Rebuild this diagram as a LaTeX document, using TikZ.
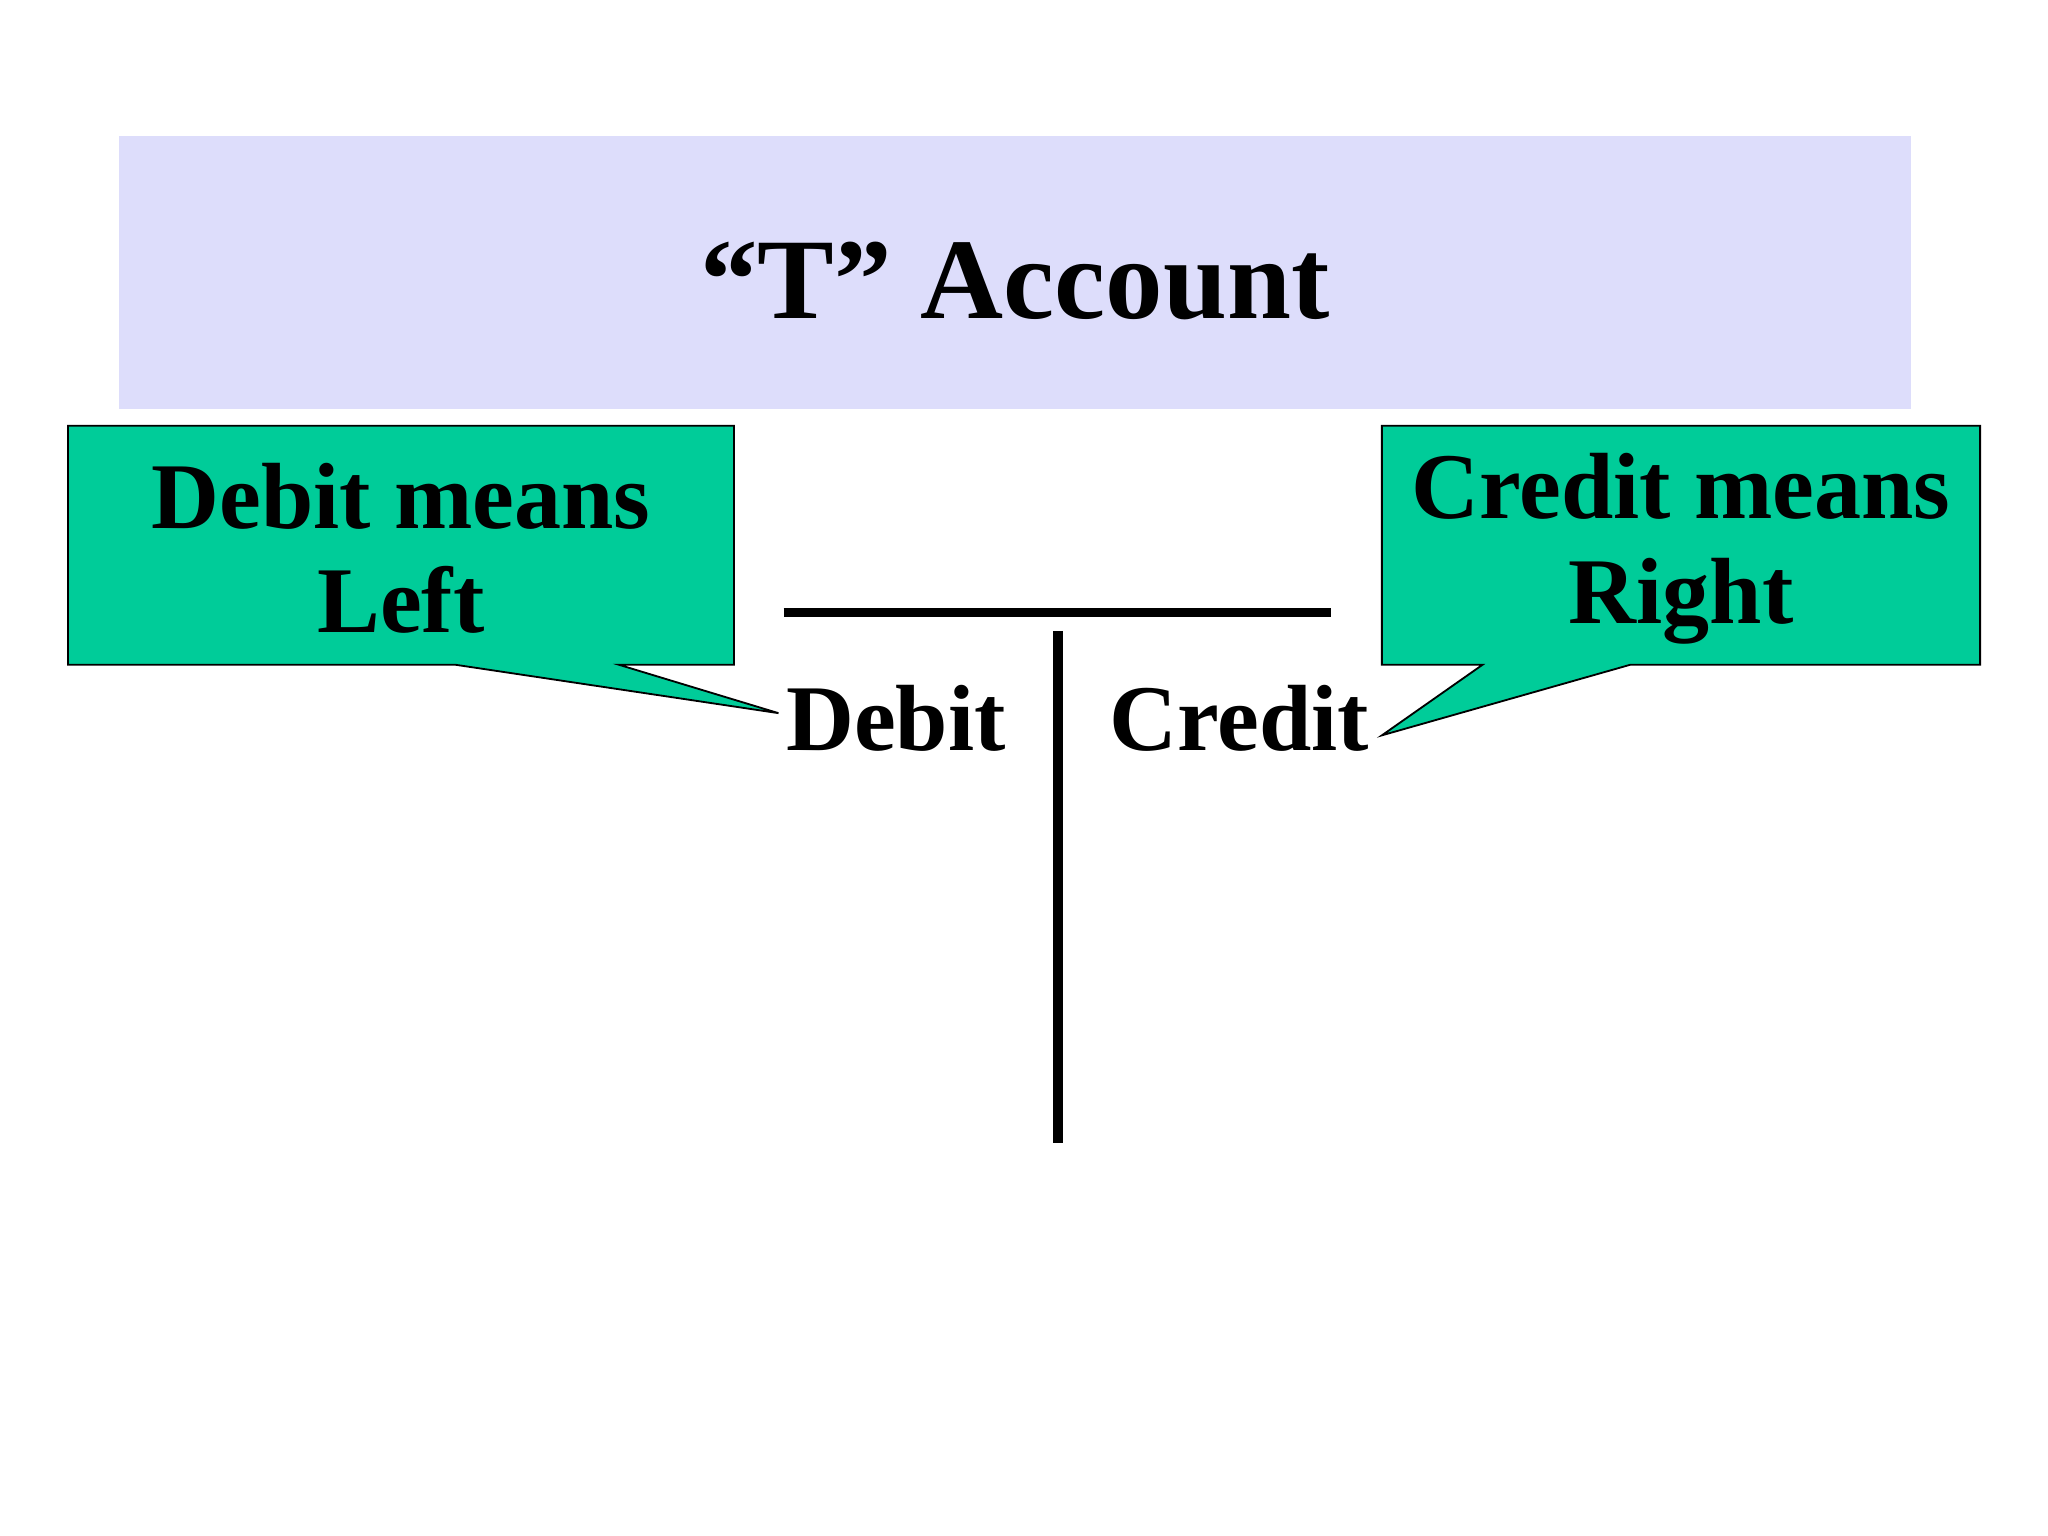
\documentclass[tikz,border=0pt]{standalone}
\usepackage{fontspec}
\setmainfont{Liberation Serif}
\definecolor{titlebg}{HTML}{DDDDFB}
\definecolor{callout}{HTML}{00CC99}
\tikzset{cbox/.style={fill=callout,draw=black,line width=0.7pt,line join=miter},
 ctext/.style={font=\fontsize{36}{40}\selectfont\bfseries,align=center},
 lbl/.style={font=\fontsize{36}{40}\selectfont\bfseries},
 tline/.style={line width=3.5pt}}
\begin{document}
\begin{tikzpicture}[x=0.5pt,y=-0.5pt]
\useasboundingbox (0,0) rectangle (1568,1176);
\fill[titlebg] (91,104) rectangle (1463,313);
\node[font=\fontsize{44}{48}\selectfont\bfseries] (title) at (777,215) {“T” Account};
\draw[cbox] (52,326) -- (562,326) -- (562,509) -- (474,509) -- (596,546) -- (349,509) -- (52,509) -- cycle;
\node[ctext] (lc) at (307,420) {Debit means\\Left};
\draw[cbox] (1058,326) -- (1516,326) -- (1516,509) -- (1248,509) -- (1058,563) -- (1135,509) -- (1058,509) -- cycle;
\node[ctext] (rc) at (1287,420) {Credit means\\Right};
\coordinate (h1) at (600,469); \coordinate (h2) at (1019,469);
\coordinate (v1) at (810,483); \coordinate (v2) at (810,875);
\draw[tline] (h1) -- (h2);
\draw[tline] (v1) -- (v2);
\node[lbl] (deb) at (686,550) {Debit};
\node[lbl] (cred) at (949,550) {Credit};
\end{tikzpicture}
\end{document}
